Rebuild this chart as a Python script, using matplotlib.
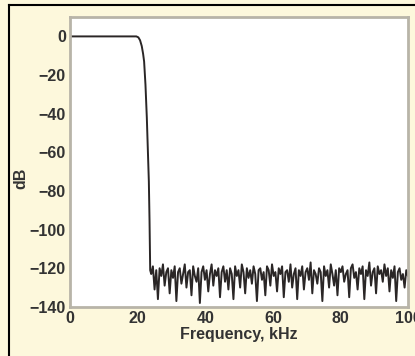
import matplotlib
matplotlib.use('Agg')
import matplotlib.pyplot as plt
import numpy as np
from matplotlib.lines import Line2D

# passband + rolloff (kHz, dB)
f_pass = [0, 19.6, 20.2, 20.7, 21.2, 21.6, 21.9, 22.3, 22.7, 23.0, 23.3, 23.5, 23.7]
db_pass = [0, 0, -0.5, -2, -5, -9, -13, -25, -42, -58, -75, -95, -121]

# noise floor, 24..100 kHz
noise = [-123, -119, -131, -121, -136, -120, -124, -118, -129, -122,
         -120, -133, -121, -125, -119, -137, -122, -120, -128, -123,
         -118, -130, -122, -121, -134, -119, -124, -127, -120, -138,
         -122, -119, -126, -121, -132, -123, -118, -129, -121, -124,
         -120, -135, -122, -119, -127, -121, -131, -120, -123, -136,
         -119, -124, -121, -130, -118, -122, -133, -120, -125, -121,
         -128, -119, -123, -137, -121, -120, -126, -122, -134, -119,
         -121, -129, -118, -124, -122, -132, -120, -123, -119, -135,
         -122, -121, -127, -118, -130, -123, -120, -136, -121, -124,
         -119, -131, -122, -120, -126, -117, -133, -121, -123, -128,
         -120, -122, -137, -119, -124, -121, -130, -118, -123, -129,
         -121, -134, -120, -122, -119, -127, -123, -121, -135, -120,
         -118, -125, -122, -131, -120, -123, -119, -136, -121, -124,
         -117, -129, -122, -120, -133, -119, -123, -121, -127, -118,
         -124, -120, -132, -121, -125, -119, -137, -122, -120, -126,
         -123, -130, -121, -124]
f_noise = np.linspace(24, 100, len(noise))

xticks = [0, 20, 40, 60, 80, 100]
yticks = [0, -20, -40, -60, -80, -100, -120, -140]

bg = '#fdf8dc'
plt.rcParams['font.family'] = ['Liberation Sans', 'DejaVu Sans']

fig = plt.figure(figsize=(4.15, 3.56), dpi=100, facecolor=bg)
ax = fig.add_axes([0.169, 0.138, 0.814, 0.814])
ax.set_facecolor('white')

f_all = list(f_pass) + list(f_noise)
db_all = list(db_pass) + list(noise)
ax.plot(f_all, db_all, color='#2a2626', lw=1.4)

ax.set_xlim(0, 100)
ax.set_ylim(-140, 10)
ax.set_xticks(xticks)
ax.set_yticks(yticks)
ax.set_yticklabels(['\u2212' + str(-v) if v < 0 else str(v) for v in yticks])
ax.tick_params(length=0, pad=3, labelsize=11.5, colors='#333333')
for lab in ax.get_xticklabels() + ax.get_yticklabels():
    lab.set_fontweight('bold')
for s in ax.spines.values():
    s.set_color('#b8b4a8')
    s.set_linewidth(2)

ax.set_xlabel('Frequency, kHz', fontsize=11.5, fontweight='bold', color='#333333', labelpad=1)
fig.text(0.05, 0.5, 'dB', rotation=90, fontsize=11.5, fontweight='bold',
         color='#333333', ha='center', va='center')

# outer black frame (top and left)
fig.add_artist(Line2D([0.022, 1], [0.986, 0.986], color='black', lw=1.5, transform=fig.transFigure))
fig.add_artist(Line2D([0.022, 0.022], [0, 0.986], color='black', lw=1.5, transform=fig.transFigure))

fig.savefig('out.png', dpi=100, facecolor=bg)
